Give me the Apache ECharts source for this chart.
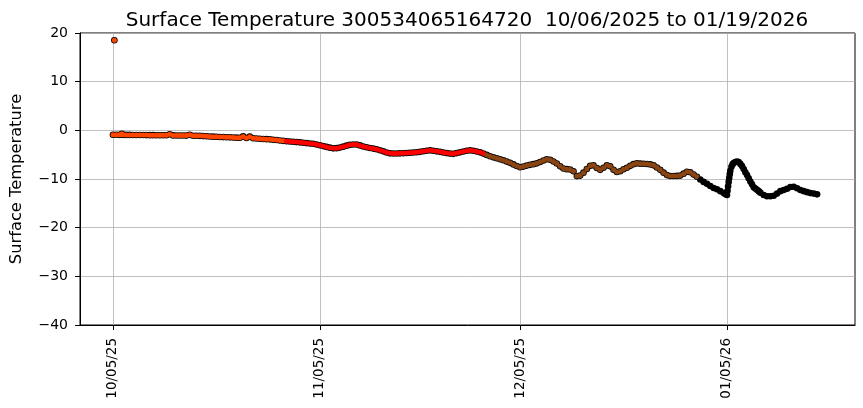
<!DOCTYPE html>
<html><head><meta charset="utf-8">
<script src="https://cdn.jsdelivr.net/npm/echarts@6/dist/echarts.min.js"></script>
<style>html,body{margin:0;padding:0;background:#fff}#c{width:863px;height:408px}</style>
</head><body><div id="c"></div><script>
const titleText = 'Surface Temperature 300534065164720  10/06/2025 to 01/19/2026';
const yAxisName = 'Surface Temperature';
const xTickDates = ['2025-10-05 00:00','2025-11-05 00:00','2025-12-05 00:00','2026-01-05 00:00'];
const xTickLabels = ['10/05/25','11/05/25','12/05/25','01/05/26'];
const xRange = ['2025-09-30 01:26','2026-01-24 04:19'];
const yRange = [-40, 20];
const yStep = 10;

// outlier reading
const outlierPts = [['2025-10-05 05:00',18.5]];

// orange-red segment
const segOrange = [
['2025-10-05 00:00',-0.92],['2025-10-05 12:00',-0.92],
['2025-10-06 00:00',-0.93],['2025-10-06 08:00',-0.72],['2025-10-06 12:00',-0.93],
['2025-10-07 00:00',-0.94],['2025-10-07 12:00',-0.94],
['2025-10-08 00:00',-0.95],['2025-10-08 12:00',-0.96],
['2025-10-09 00:00',-0.97],['2025-10-09 12:00',-0.97],
['2025-10-10 00:00',-0.98],['2025-10-10 12:00',-0.99],
['2025-10-11 00:00',-0.99],['2025-10-11 12:00',-1.00],
['2025-10-12 00:00',-1.00],['2025-10-12 12:00',-1.01],
['2025-10-13 00:00',-1.02],['2025-10-13 12:00',-0.82],
['2025-10-14 00:00',-1.04],['2025-10-14 12:00',-1.05],
['2025-10-15 00:00',-1.06],['2025-10-15 12:00',-1.07],
['2025-10-16 00:00',-1.08],['2025-10-16 12:00',-0.92],
['2025-10-17 00:00',-1.10],['2025-10-17 12:00',-1.12],
['2025-10-18 00:00',-1.13],['2025-10-18 12:00',-1.18],
['2025-10-19 00:00',-1.23],['2025-10-19 12:00',-1.27],
['2025-10-20 00:00',-1.30],['2025-10-20 12:00',-1.33],
['2025-10-21 00:00',-1.36],['2025-10-21 12:00',-1.39],
['2025-10-22 00:00',-1.42],['2025-10-22 12:00',-1.44],
['2025-10-23 00:00',-1.47],['2025-10-23 12:00',-1.50],
['2025-10-24 00:00',-1.52],['2025-10-24 12:00',-1.25],
['2025-10-25 00:00',-1.58],['2025-10-25 12:00',-1.30],
['2025-10-26 00:00',-1.64],['2025-10-26 12:00',-1.68],
['2025-10-27 00:00',-1.72],['2025-10-27 12:00',-1.77],
['2025-10-28 00:00',-1.81],['2025-10-28 12:00',-1.85],
['2025-10-29 00:00',-1.92],['2025-10-29 12:00',-2.00],
['2025-10-30 00:00',-2.08],['2025-10-30 12:00',-2.16]
];

// red segment
const segRed = [
['2025-10-31 00:00',-2.23],['2025-10-31 12:00',-2.30],
['2025-11-01 00:00',-2.36],['2025-11-01 12:00',-2.42],
['2025-11-02 00:00',-2.47],['2025-11-02 12:00',-2.55],
['2025-11-03 00:00',-2.62],['2025-11-03 12:00',-2.70],
['2025-11-04 00:00',-2.77],['2025-11-04 12:00',-2.92],
['2025-11-05 00:00',-3.08],['2025-11-05 12:00',-3.24],
['2025-11-06 00:00',-3.40],['2025-11-06 12:00',-3.56],
['2025-11-07 00:00',-3.70],['2025-11-07 12:00',-3.66],
['2025-11-08 00:00',-3.55],['2025-11-08 12:00',-3.35],
['2025-11-09 00:00',-3.15],['2025-11-09 12:00',-2.98],
['2025-11-10 00:00',-2.90],['2025-11-10 12:00',-2.90],
['2025-11-11 00:00',-3.10],['2025-11-11 12:00',-3.33],
['2025-11-12 00:00',-3.48],['2025-11-12 12:00',-3.62],
['2025-11-13 00:00',-3.75],['2025-11-13 12:00',-3.90],
['2025-11-14 00:00',-4.10],['2025-11-14 12:00',-4.32],
['2025-11-15 00:00',-4.55],['2025-11-15 12:00',-4.73],
['2025-11-16 00:00',-4.76],['2025-11-16 12:00',-4.76],
['2025-11-17 00:00',-4.73],['2025-11-17 12:00',-4.70],
['2025-11-18 00:00',-4.66],['2025-11-18 12:00',-4.62],
['2025-11-19 00:00',-4.56],['2025-11-19 12:00',-4.49],
['2025-11-20 00:00',-4.42],['2025-11-20 12:00',-4.30],
['2025-11-21 00:00',-4.18],['2025-11-21 12:00',-4.11],
['2025-11-22 00:00',-4.20],['2025-11-22 12:00',-4.32],
['2025-11-23 00:00',-4.42],['2025-11-23 12:00',-4.55],
['2025-11-24 00:00',-4.68],['2025-11-24 12:00',-4.78],
['2025-11-25 00:00',-4.83],['2025-11-25 12:00',-4.68],
['2025-11-26 00:00',-4.52],['2025-11-26 12:00',-4.35],
['2025-11-27 00:00',-4.20],['2025-11-27 12:00',-4.11],
['2025-11-28 00:00',-4.20],['2025-11-28 12:00',-4.35],
['2025-11-29 00:00',-4.52],['2025-11-29 12:00',-4.78]
];

// brown segment
const segBrown = [
['2025-11-30 00:00',-5.05],['2025-11-30 12:00',-5.34],
['2025-12-01 00:00',-5.55],['2025-12-01 12:00',-5.75],
['2025-12-02 00:00',-5.95],['2025-12-02 12:00',-6.16],
['2025-12-03 00:00',-6.42],['2025-12-03 12:00',-6.68],
['2025-12-04 00:00',-7.00],['2025-12-04 12:00',-7.32],
['2025-12-05 00:00',-7.60],['2025-12-05 12:00',-7.45],
['2025-12-06 00:00',-7.25],['2025-12-06 12:00',-7.09],
['2025-12-07 00:00',-6.95],['2025-12-07 12:00',-6.78],
['2025-12-08 00:00',-6.50],['2025-12-08 12:00',-6.20],
['2025-12-09 00:00',-5.95],['2025-12-09 12:00',-6.05],
['2025-12-10 00:00',-6.40],['2025-12-10 12:00',-6.80],
['2025-12-11 00:00',-7.40],['2025-12-11 12:00',-7.85],
['2025-12-12 00:00',-7.98],['2025-12-12 12:00',-8.05],
['2025-12-13 00:00',-8.40],['2025-12-13 12:00',-9.40],
['2025-12-14 00:00',-9.30],['2025-12-14 12:00',-8.70],
['2025-12-15 00:00',-7.95],['2025-12-15 12:00',-7.30],
['2025-12-16 00:00',-7.20],['2025-12-16 12:00',-7.75],
['2025-12-17 00:00',-8.12],['2025-12-17 12:00',-7.70],
['2025-12-18 00:00',-7.20],['2025-12-18 12:00',-7.40],
['2025-12-19 00:00',-8.10],['2025-12-19 12:00',-8.55],
['2025-12-20 00:00',-8.40],['2025-12-20 12:00',-8.00],
['2025-12-21 00:00',-7.70],['2025-12-21 12:00',-7.30],
['2025-12-22 00:00',-6.95],['2025-12-22 12:00',-6.78],
['2025-12-23 00:00',-6.85],['2025-12-23 12:00',-6.88],
['2025-12-24 00:00',-6.92],['2025-12-24 12:00',-7.00],
['2025-12-25 00:00',-7.20],['2025-12-25 12:00',-7.65],
['2025-12-26 00:00',-8.12],['2025-12-26 12:00',-8.70],
['2025-12-27 00:00',-9.20],['2025-12-27 12:00',-9.38],
['2025-12-28 00:00',-9.38],['2025-12-28 12:00',-9.36],
['2025-12-29 00:00',-9.30],['2025-12-29 12:00',-8.90],
['2025-12-30 00:00',-8.50],['2025-12-30 12:00',-8.60],
['2025-12-31 00:00',-9.10],['2025-12-31 12:00',-9.55]
];

// black segment
const segBlack = [
['2026-01-01 00:00',-10.10],['2026-01-01 12:00',-10.60],
['2026-01-02 00:00',-11.00],['2026-01-02 12:00',-11.45],
['2026-01-03 00:00',-11.85],['2026-01-03 12:00',-12.12],
['2026-01-04 00:00',-12.50],['2026-01-04 12:00',-12.90],
['2026-01-04 18:00',-13.10],['2026-01-05 00:00',-13.30],
['2026-01-05 02:00',-12.40],['2026-01-05 04:00',-11.50],
['2026-01-05 06:00',-10.60],['2026-01-05 08:00',-9.80],
['2026-01-05 10:00',-9.00],['2026-01-05 12:00',-8.30],
['2026-01-05 16:00',-7.50],['2026-01-05 20:00',-7.00],
['2026-01-06 00:00',-6.70],['2026-01-06 06:00',-6.50],
['2026-01-06 12:00',-6.42],['2026-01-06 18:00',-6.50],
['2026-01-07 00:00',-6.90],['2026-01-07 06:00',-7.35],
['2026-01-07 12:00',-7.95],['2026-01-07 18:00',-8.60],
['2026-01-08 00:00',-9.20],['2026-01-08 06:00',-9.85],
['2026-01-08 12:00',-10.50],['2026-01-08 18:00',-11.10],
['2026-01-09 00:00',-11.70],['2026-01-09 06:00',-11.95],
['2026-01-09 12:00',-12.20],['2026-01-09 18:00',-12.50],
['2026-01-10 00:00',-12.80],['2026-01-10 12:00',-13.30],
['2026-01-11 00:00',-13.55],['2026-01-11 12:00',-13.55],
['2026-01-12 00:00',-13.45],['2026-01-12 12:00',-13.00],
['2026-01-13 00:00',-12.50],['2026-01-13 12:00',-12.25],
['2026-01-14 00:00',-12.00],['2026-01-14 12:00',-11.65],
['2026-01-15 00:00',-11.60],['2026-01-15 12:00',-11.90],
['2026-01-16 00:00',-12.25],['2026-01-16 12:00',-12.50],
['2026-01-17 00:00',-12.70],['2026-01-17 12:00',-12.90],
['2026-01-18 00:00',-13.00],['2026-01-18 12:00',-13.15]
];

const segColors = ['#ff4500','#ff0000','#8b4513','#000000'];

function ts(s){ return new Date(s.replace(' ','T')+':00').getTime(); }
const tickTs = xTickDates.map(ts);
function conv(arr){ return arr.map(p => [ts(p[0]), p[1]]); }

const font = 'DejaVu Sans';
const chart = echarts.init(document.getElementById('c'), null, {renderer:'canvas'});
// outline pass (black, slightly larger) then fill pass on top
const outline = (data) => ({
  type:'scatter', data: conv(data), symbolSize:6.6, z:2, animation:false, silent:true,
  itemStyle:{color:'#000', opacity:1}
});
const fill = (data, color) => ({
  type:'scatter', data: conv(data), symbolSize:5, z:3, animation:false, silent:true,
  itemStyle:{color: color, opacity:1}
});
chart.setOption({
  animation:false,
  backgroundColor:'#fff',
  title:{text:titleText, left:462, top:6, textAlign:'center',
    textStyle:{fontFamily:font, fontSize:20, fontWeight:'normal', color:'#000'}},
  grid:{left:80, right:8, top:33, bottom:83, show:true, borderColor:'#000', borderWidth:1, backgroundColor:'transparent'},
  xAxis:{type:'value', min:ts(xRange[0]), max:ts(xRange[1]), scale:true,
    axisLine:{show:true, onZero:false, lineStyle:{color:'#000', width:1}},
    axisTick:{show:true, customValues:tickTs, length:5, lineStyle:{color:'#000', width:1}},
    axisLabel:{customValues:tickTs, rotate:90, margin:13, color:'#000', fontFamily:font, fontSize:13.5,
      formatter:(v)=>{ const i = tickTs.indexOf(v); return i>=0 ? xTickLabels[i] : ''; }},
    splitLine:{show:true, lineStyle:{color:'#b0b0b0', width:0.8}}
  },
  yAxis:{type:'value', min:yRange[0], max:yRange[1], interval:yStep,
    name:yAxisName, nameLocation:'middle', nameGap:55,
    nameTextStyle:{fontFamily:font, fontSize:16.3, color:'#000'},
    axisLine:{show:true, onZero:false, lineStyle:{color:'#000', width:1}},
    axisTick:{show:true, length:5, lineStyle:{color:'#000', width:1}},
    axisLabel:{color:'#000', fontFamily:font, fontSize:14, margin:12,
      formatter:(v)=>String(v).replace('-','\u2212')},
    splitLine:{show:true, lineStyle:{color:'#b0b0b0', width:0.8}}
  },
  series:[
    outline(segOrange), outline(outlierPts), outline(segRed), outline(segBrown), outline(segBlack),
    fill(segOrange, segColors[0]),
    fill(outlierPts, segColors[0]),
    fill(segRed, segColors[1]),
    fill(segBrown, segColors[2]),
    fill(segBlack, segColors[3])
  ]
});
</script></body></html>
